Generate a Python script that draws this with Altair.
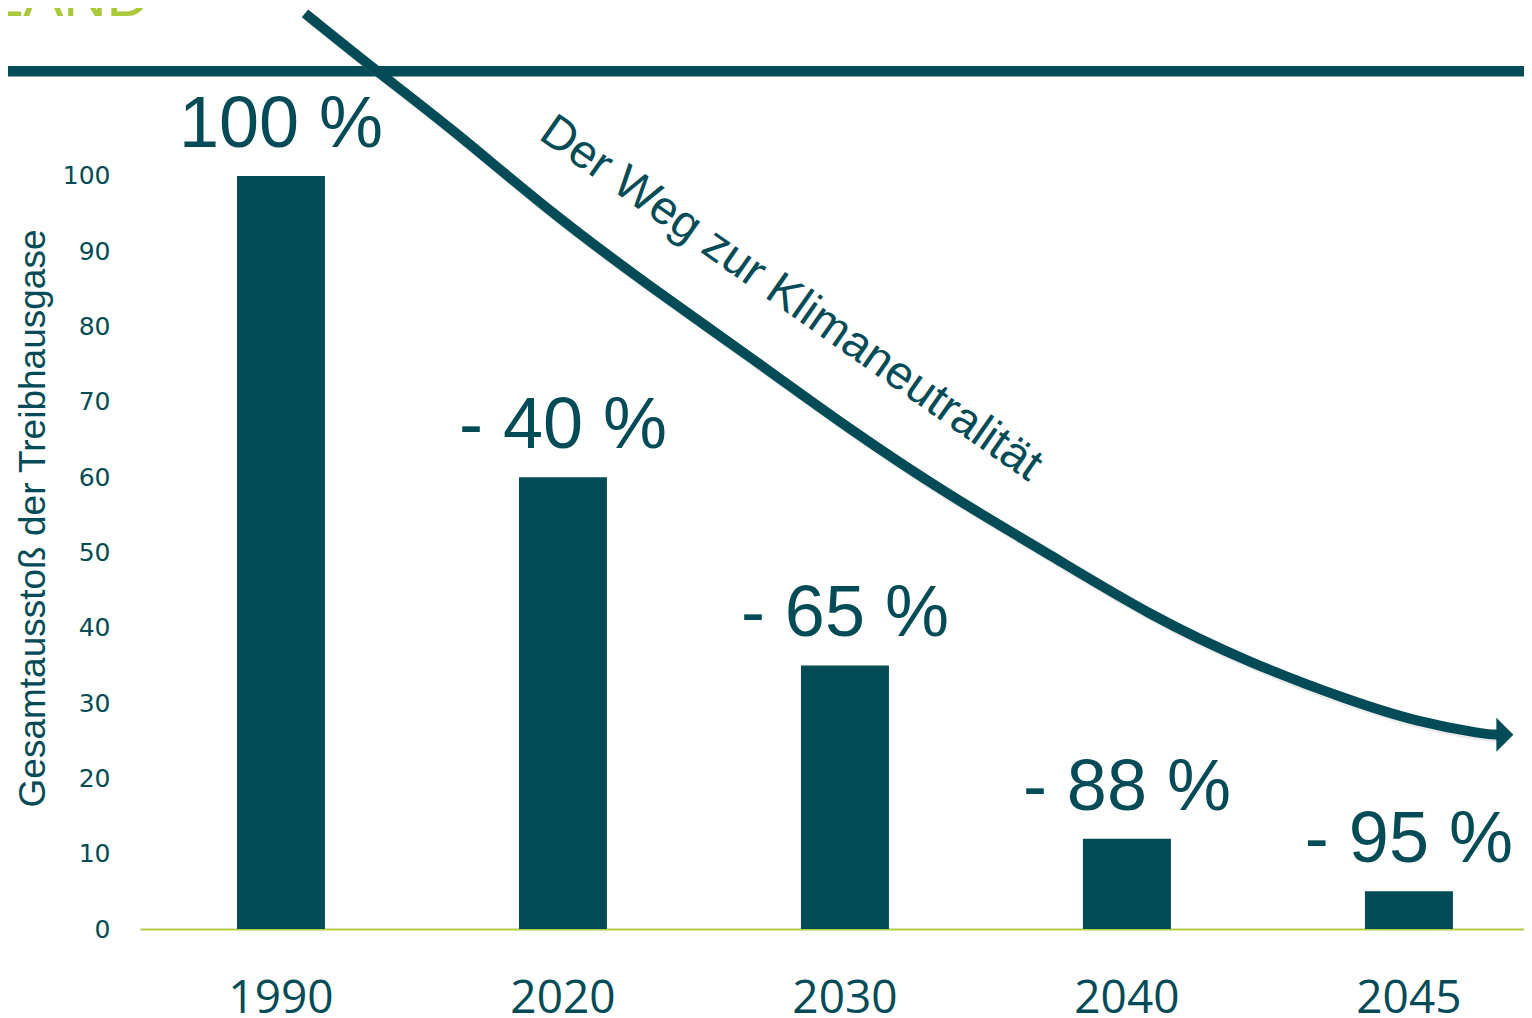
import altair as alt
import pandas as pd

# ---- data ----
years = ["1990", "2020", "2030", "2040", "2045"]
values = [100, 60, 35, 12, 5]
bar_labels = ["100 %", "- 40 %", "- 65 %", "- 88 %", "- 95 %"]
y_ticks = [0, 10, 20, 30, 40, 50, 60, 70, 80, 90, 100]

# curved arrow "Der Weg zur Klimaneutralität" (x in bar-index units, y in value units)
curve_pos = [0.085, 0.340, 0.599, 0.954, 1.309, 1.663, 2.018, 2.372, 2.727,
             3.082, 3.436, 3.791, 4.028, 4.262, 4.316]
curve_val = [121.6, 113.9, 106.5, 95.2, 85.3, 76.0, 66.3, 57.5, 49.7,
             41.6, 35.3, 30.3, 27.5, 25.9, 25.8]
arrow_pos = [4.340]
arrow_val = [25.8]
path_text = ["Der Weg zur Klimaneutralität"]
path_text_pos = [1.780]
path_text_val = [82.2]

# header decoration
header_line_pos = [-1.0]
header_line_pos2 = [4.6]
header_line_val = [113.9]
brand_text = ["LAND"]
brand_pos = [-0.465]
brand_val = [121.3]

TEAL = "#034b57"
GREEN = "#a9c83a"
AXIS_GREEN = "#b2cd45"

bars_df = pd.DataFrame({"year": years, "value": values, "label": bar_labels})
curve_df = pd.DataFrame({"pos": curve_pos, "value": curve_val, "order": list(range(len(curve_pos)))})
arrow_df = pd.DataFrame({"pos": arrow_pos, "value": arrow_val})
ptext_df = pd.DataFrame({"pos": path_text_pos, "value": path_text_val, "label": path_text})
hline_df = pd.DataFrame({"pos": header_line_pos, "pos2": header_line_pos2, "value": header_line_val})
brand_df = pd.DataFrame({"pos": brand_pos, "value": brand_val, "label": brand_text})

y_scale = alt.Scale(domain=[0, 122.31], nice=False, zero=True)
y_enc = alt.Y(
    "value:Q",
    scale=y_scale,
    axis=alt.Axis(
        values=y_ticks,
        grid=False,
        domain=False,
        ticks=False,
        tickSize=0,
        labelFont="DejaVu Sans",
        labelFontSize=25,
        labelColor=TEAL,
        labelPadding=30,
        title="Gesamtausstoß der Treibhausgase",
        titleFont="Liberation Sans",
        titleFontSize=37,
        titleFontWeight="normal",
        titleColor=TEAL,
        titleAngle=270,
        titleAlign="center",
        titleBaseline="alphabetic",
        titleX=-96,
        titleY=510,
    ),
)

x_band = alt.X(
    "year:N",
    sort=years,
    scale=alt.Scale(type="band", domain=years, paddingInner=0.688, paddingOuter=0.298, align=0.577),
    axis=alt.Axis(
        title=None,
        labelAngle=0,
        ticks=False,
        tickSize=0,
        domain=True,
        domainColor=AXIS_GREEN,
        domainWidth=2,
        grid=False,
        labelFont="Open Sans",
        labelFontSize=46,
        labelColor=TEAL,
        labelBaseline="alphabetic",
        labelPadding=83,
    ),
)

x_pos_scale = alt.Scale(domain=[-0.5, 4.4078], nice=False, zero=False)
x_pos = alt.X("pos:Q", scale=x_pos_scale, axis=None)

header = alt.Chart(hline_df).mark_rule(color=TEAL, strokeWidth=10.5).encode(
    x=x_pos, x2="pos2:Q", y=y_enc
)

bars = alt.Chart(bars_df).mark_bar(color=TEAL).encode(x=x_band, y=y_enc)

bar_text = alt.Chart(bars_df).mark_text(
    font="Liberation Sans", fontSize=72, color=TEAL, baseline="alphabetic", dy=-29
).encode(x=x_band, y=y_enc, text="label:N")

bar_group = alt.layer(bars, bar_text)

shadow = alt.Chart(curve_df).mark_line(
    color="#9a9a9a", strokeWidth=8, opacity=0.2, interpolate="basis", xOffset=2, yOffset=4
).encode(x=x_pos, y=y_enc, order="order:Q")

curve = alt.Chart(curve_df).mark_line(
    color=TEAL, strokeWidth=10, interpolate="basis", strokeCap="butt"
).encode(x=x_pos, y=y_enc, order="order:Q")

arrow = alt.Chart(arrow_df).mark_point(
    shape="M-0.5,-1L0.5,0L-0.5,1Z", filled=True, size=1156, color=TEAL, opacity=1, strokeWidth=0
).encode(x=x_pos, y=y_enc)

ptext = alt.Chart(ptext_df).mark_text(
    font="Liberation Sans", fontSize=47, color=TEAL, angle=35, align="center", baseline="alphabetic"
).encode(x=x_pos, y=y_enc, text="label:N")

brand = alt.Chart(brand_df).mark_text(
    font="Liberation Sans", fontSize=60, color=GREEN, align="right", baseline="alphabetic"
).encode(x=x_pos, y=y_enc, text="label:N")

chart = (
    alt.layer(header, bar_group, shadow, curve, arrow, ptext, brand)
    .resolve_scale(x="independent")
    .properties(
        width=1384,
        height=921,
        autosize=alt.AutoSizeParams(type="none"),
        padding={"left": 132, "top": 0, "right": 0, "bottom": 91},
        background="white",
    )
    .configure_view(stroke=None)
)

chart.save("out.html", embed_options={"renderer": "svg", "actions": False})
